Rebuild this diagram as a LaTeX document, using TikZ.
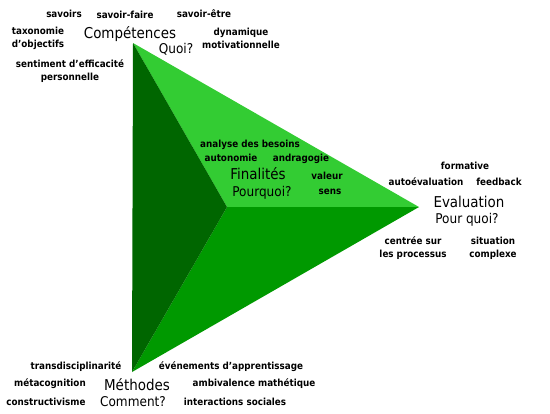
\documentclass[tikz,border=0pt]{standalone}
\usepackage{fontspec}
\setmainfont{DejaVu Sans}
\newfontfamily\smallf{DejaVu Sans Condensed}
\newfontfamily\bigf{DejaVu Sans Condensed}
\definecolor{gLight}{HTML}{33CC33}
\definecolor{gMid}{HTML}{009900}
\definecolor{gDark}{HTML}{006600}
\tikzset{
  sm/.style={inner sep=0pt, font=\smallf\bfseries\fontsize{9.8}{13}\selectfont, align=center},
  bg/.style={inner sep=0pt, font=\bigf\fontsize{15}{17}\selectfont},
  bq/.style={inner sep=0pt, font=\bigf\fontsize{13.5}{15}\selectfont},
}
\begin{document}
\begin{tikzpicture}[x=1bp,y=-1bp]
\useasboundingbox (0,0) rectangle (550,413);
\coordinate (T) at (133,43);
\coordinate (R) at (419,207);
\coordinate (B) at (132,372);
\coordinate (C) at (227,207);
\fill[gLight] (T) -- (R) -- (C) -- cycle;
\fill[gMid] (C) -- (R) -- (B) -- cycle;
\fill[gDark] (T) -- (C) -- (B) -- cycle;
% Compétences
\node[sm] (s1) at (64,14) {savoirs};
\node[sm] (s2) at (125,15) {savoir-faire};
\node[sm] (s3) at (204,14) {savoir-être};
\node[sm] (s4) at (38,38) {taxonomie\\d’objectifs};
\node[bg] (comp) at (130,34) {Compétences};
\node[bq] (quoi) at (176,49) {Quoi?};
\node[sm] (s5) at (241,38) {dynamique\\motivationnelle};
\node[sm] (s6) at (70,71) {sentiment d’efficacité\\personnelle};
% Finalités
\node[sm] (f1) at (250,145) {analyse des besoins};
\node[sm] (f2) at (231,158) {autonomie};
\node[sm] (f3) at (301,159) {andragogie};
\node[bg] (fin) at (258,174) {Finalités};
\node[bq] (pq) at (262,193) {Pourquoi?};
\node[sm] (f4) at (327,176) {valeur};
\node[sm] (f5) at (330,192) {sens};
% Evaluation
\node[sm] (e1) at (465,166) {formative};
\node[sm] (e2) at (426,182) {autoévaluation};
\node[sm] (e3) at (499,182) {feedback};
\node[bg] (eval) at (469,202) {Evaluation};
\node[bq] (pourq) at (467,220) {Pour quoi?};
\node[sm] (e4) at (413,248) {centrée sur\\les processus};
\node[sm] (e5) at (493,248) {situation\\complexe};
% Méthodes
\node[sm] (m1) at (76,367) {transdisciplinarité};
\node[sm] (m2) at (231,367) {événements d’apprentissage};
\node[sm] (m3) at (50,384) {métacognition};
\node[bg] (meth) at (137,385) {Méthodes};
\node[sm] (m4) at (254,384) {ambivalence mathétique};
\node[sm] (m5) at (46,402) {constructivisme};
\node[bq] (comm) at (133,402) {Comment?};
\node[sm] (m6) at (235,402) {interactions sociales};
\end{tikzpicture}
\end{document}
